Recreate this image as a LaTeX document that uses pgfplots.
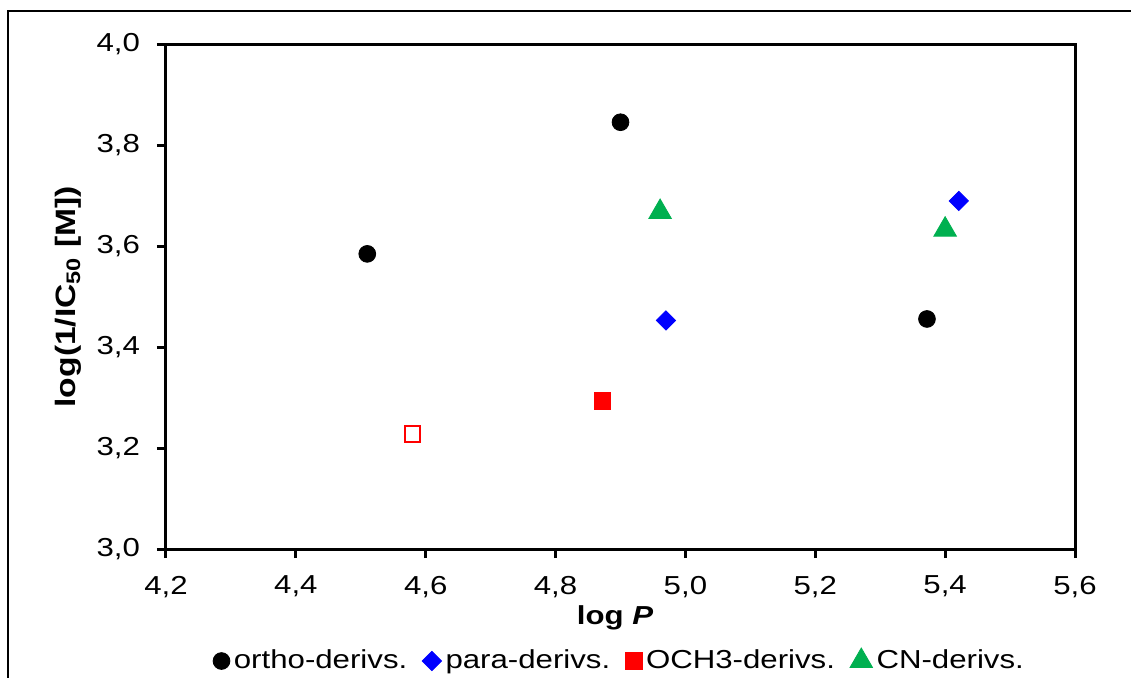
\documentclass[border=0pt]{standalone}
\usepackage{fontspec}
\setmainfont{Liberation Sans}[FakeStretch=1.2]
\usepackage{pgfplots}
\pgfplotsset{compat=1.18}
\definecolor{xlgreen}{RGB}{0,176,80}
\definecolor{xlblue}{RGB}{0,0,255}
\definecolor{xlred}{RGB}{255,0,0}
\begin{document}
\begin{tikzpicture}
\begin{axis}[
  at={(83pt,-274.5pt)}, anchor=south west,
  scale only axis, width=454.5pt, height=252.25pt,
  xmin=4.2, xmax=5.6, ymin=3.0, ymax=4.0,
  xtick={4.2,4.4,4.6,4.8,5.0,5.2,5.4,5.6},
  ytick={3.0,3.2,3.4,3.6,3.8,4.0},
  tick pos=left, tick align=outside, major tick length=4.5pt,
  axis line style={line width=1.5pt},
  every tick/.style={black, line width=1.5pt},
  /pgf/number format/use comma,
  /pgf/number format/fixed,
  /pgf/number format/fixed zerofill,
  /pgf/number format/precision=1,
  /pgf/number format/assume math mode=true,
  ticklabel style={font=\fontsize{13}{15}\selectfont},
  yticklabel style={xshift=-5pt},
  xticklabel style={yshift=-5.5pt},
  xlabel={\bfseries log \textit{P}},
  xlabel style={at={(rel axis cs:0.494,-0.137)}, anchor=center, font=\fontsize{13}{15}\selectfont},
  ylabel={\bfseries log(1/IC\textsubscript{50} [M])},
  ylabel style={at={(rel axis cs:-0.107,0.5)}, anchor=center, font=\fontsize{14}{16}\selectfont},
  legend columns=4,
  legend style={draw=none, fill=none, at={(0.5,-0.222)}, anchor=center,
    font=\fontsize{13}{15}\selectfont,
    nodes={inner sep=2pt},
    /tikz/every even column/.append style={column sep=5.5pt}},
  legend image code/.code={\draw[#1] plot coordinates {(0pt,0pt)};},
]
\addplot[only marks, mark=*, mark size=4.2pt, black] coordinates {(4.510,3.585) (4.900,3.846) (5.372,3.456)};
\addlegendentry{ortho-derivs.}
\addplot[only marks, mark=square*, mark size=3.4pt, xlblue, mark options={rotate=45}] coordinates {(4.970,3.453) (5.421,3.690)};
\addlegendentry{para-derivs.}
\addplot[only marks, mark=square*, mark size=4.2pt, xlred] coordinates {(4.872,3.294)};
\addlegendentry{OCH3-derivs.}
\addplot[only marks, mark=triangle*, mark size=6.5pt, xlgreen] coordinates {(4.961,3.668) (5.400,3.633)};
\addlegendentry{CN-derivs.}
\addplot[only marks, mark=square, mark size=3.8pt, xlred, mark options={line width=1pt}, forget plot] coordinates {(4.580,3.228)};
\end{axis}
\draw[line width=1pt] (4pt,-400pt) -- (4pt,-5.5pt) -- (600pt,-5.5pt);
\pgfresetboundingbox
\useasboundingbox (0,0) rectangle (565.5pt,-338.5pt);
\end{tikzpicture}
\end{document}
